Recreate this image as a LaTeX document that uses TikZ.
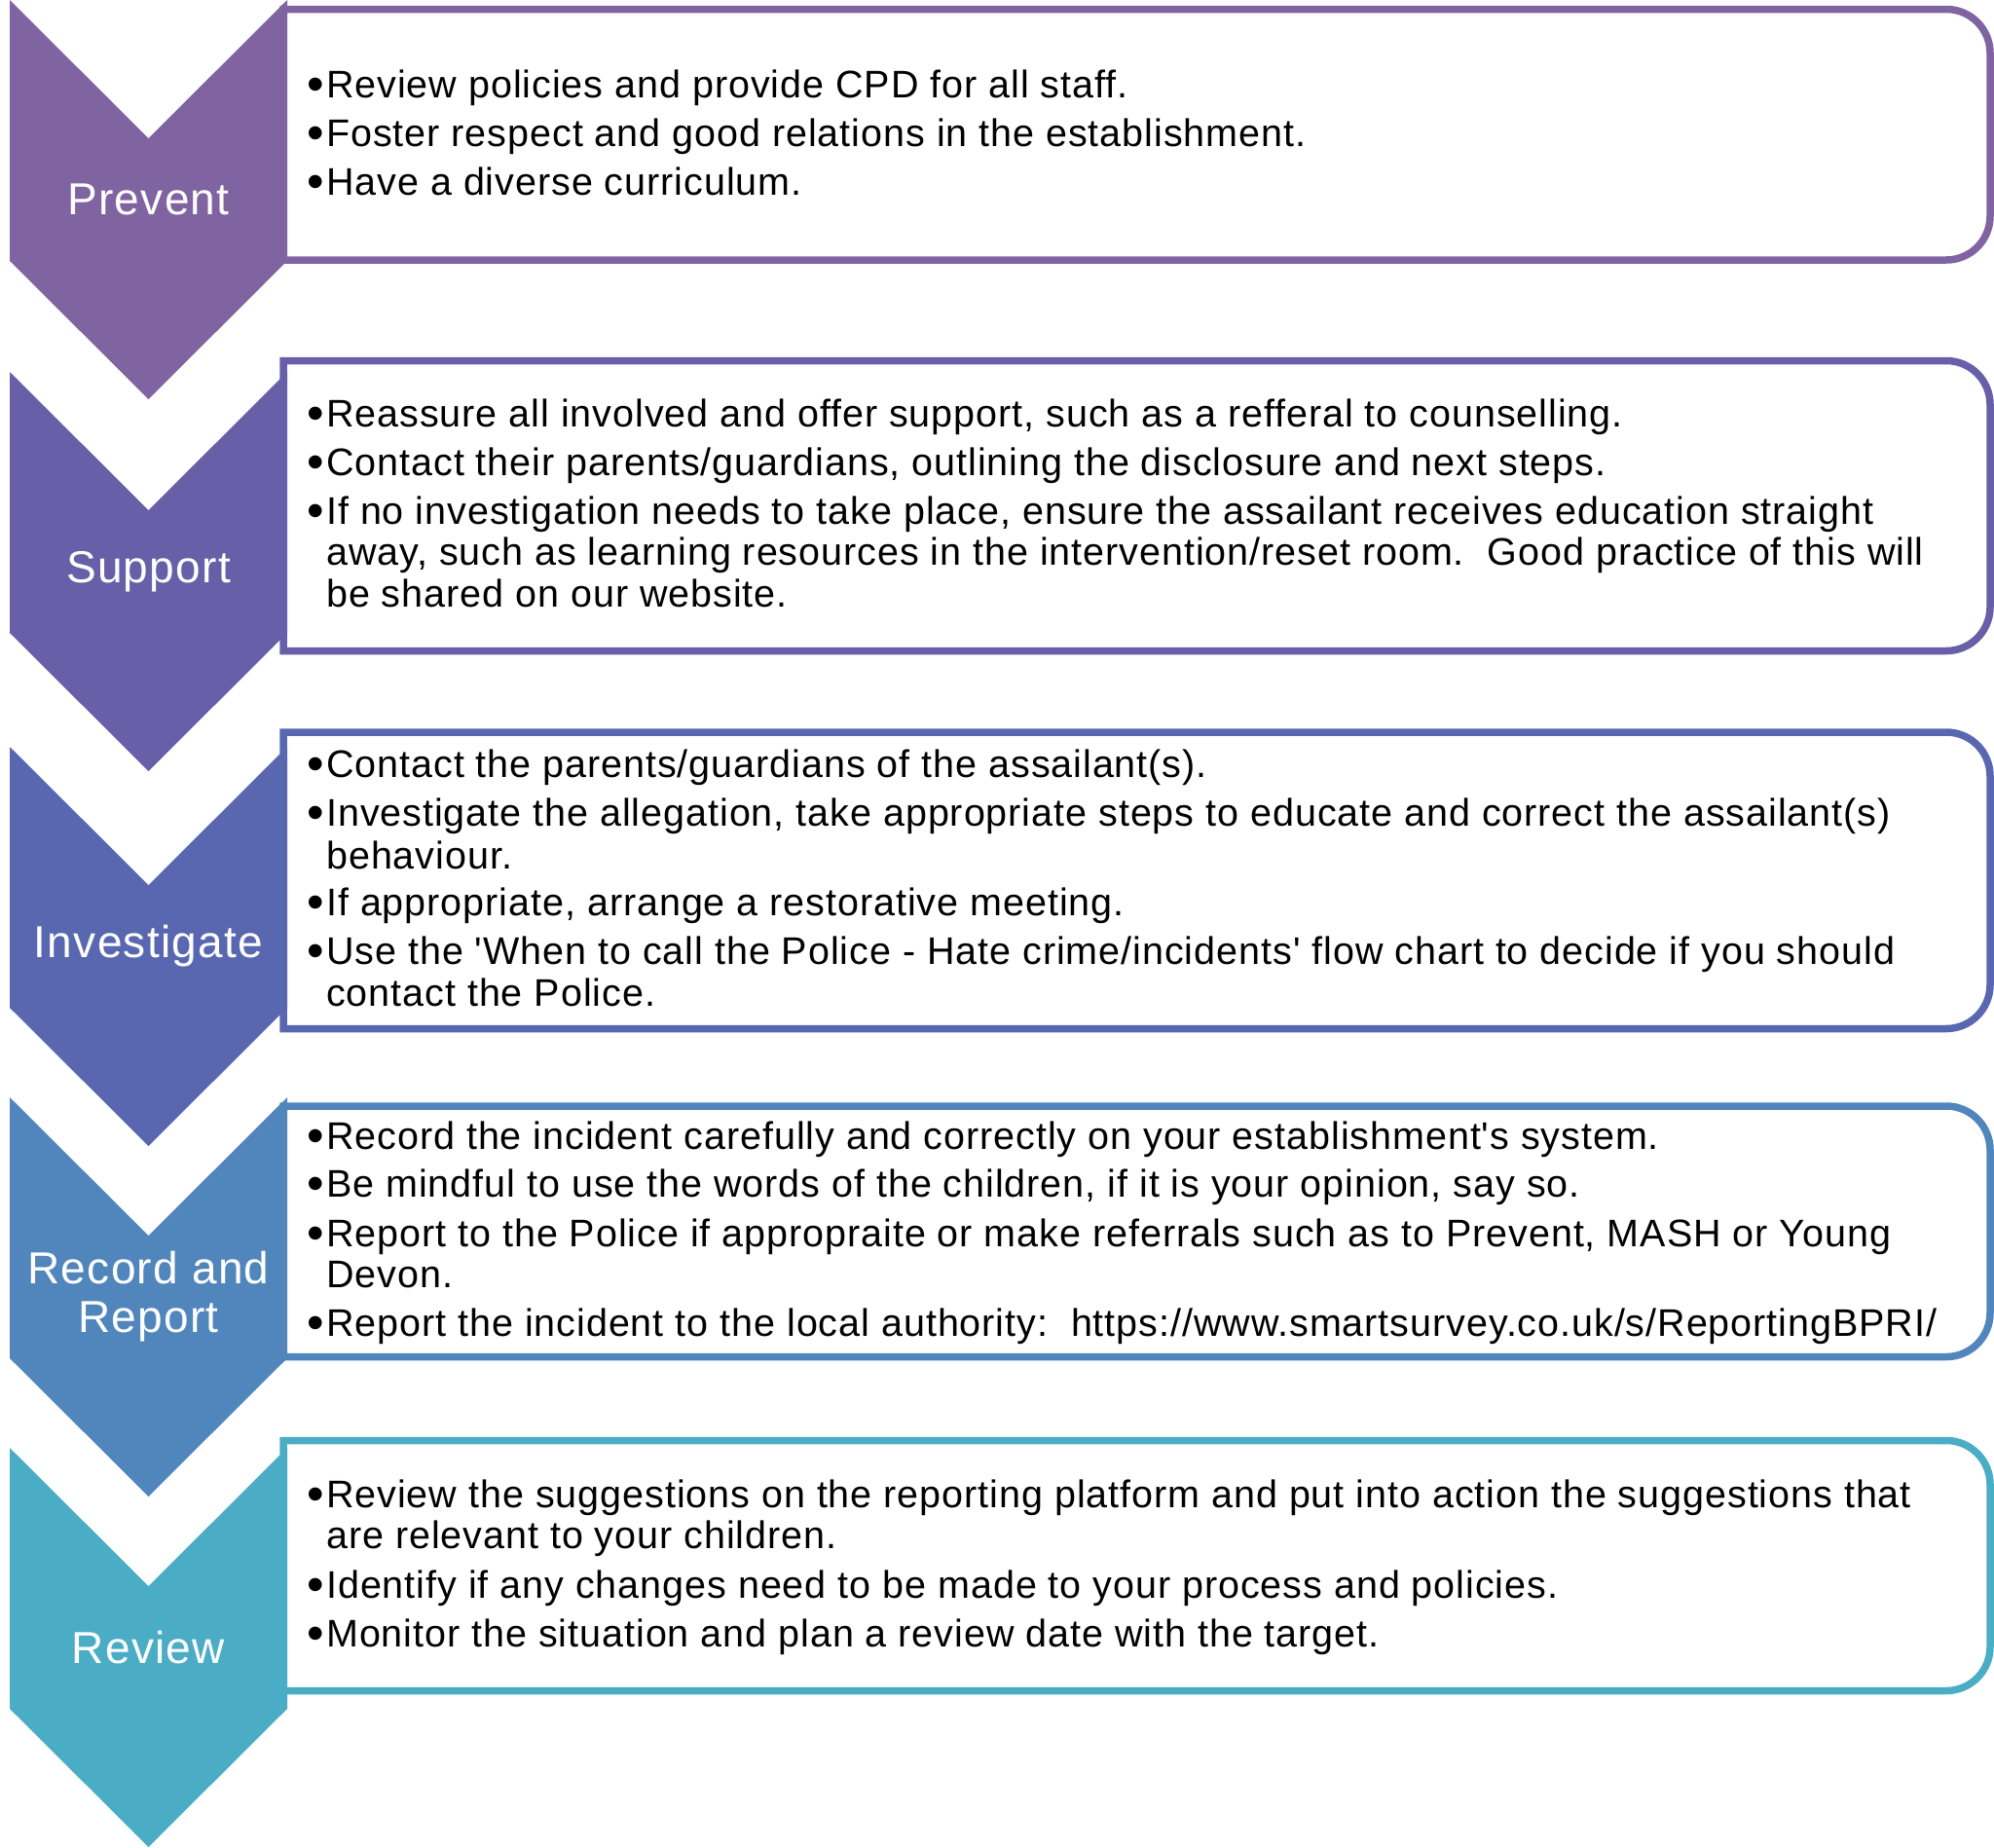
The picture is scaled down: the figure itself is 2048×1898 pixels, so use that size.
\documentclass[tikz,border=0pt]{standalone}
\usepackage{fontspec}
\setmainfont{Liberation Sans}
\newfontfamily\bodyfont[LetterSpace=2.4]{Liberation Sans}
\newfontfamily\labelfont[LetterSpace=2.8]{Liberation Sans}
\newfontfamily\bulfont{Liberation Sans}
\definecolor{cPrevent}{HTML}{8064A2}
\definecolor{cSupport}{HTML}{695EA8}
\definecolor{cInvest}{HTML}{5967B1}
\definecolor{cRecord}{HTML}{5186BD}
\definecolor{cReview}{HTML}{4BACC6}
\tikzset{
  bodyline/.style={anchor=base west, inner sep=0pt, font=\bodyfont\fontsize{39.5}{43}\selectfont, text=black},
  chevlabel/.style={inner sep=0pt, align=center, text=white, font=\labelfont\fontsize{46}{50}\selectfont},
  stagebox/.style={draw=#1, line width=7.5pt, fill=white},
  chevshape/.style={fill=#1, draw=none}
}
% bullet line: name, baseline y, text
\newcommand\bulline[3]{\node[bodyline] (#1) at (315,#2) {\makebox[20pt][l]{\raisebox{-3pt}{\bulfont\fontsize{50}{50}\selectfont •}}#3};}
% continuation line
\newcommand\contline[3]{\node[bodyline] (#1) at (335,#2) {#3};}
% box: name, colour, top, bottom
\newcommand\stagebx[4]{%
  \draw[stagebox=#2] (291,#3) -- (1500,#3) [rounded corners=45pt] -- (2044,#3) -- (2044,#4) -- (1500,#4) [sharp corners] -- (291,#4) -- cycle;
  \coordinate (#1) at (1167,{(#3+#4)/2});}
% chevron: name, colour, top
\newcommand\chev[3]{%
  \fill[chevshape=#2] (10,#3) -- (152.5,#3+142) -- (295,#3) -- (295,#3+268) -- (152.5,#3+410) -- (10,#3+268) -- cycle;
  \coordinate (#1) at (152.5,#3+205);}
\begin{document}
\begin{tikzpicture}[x=1pt,y=-1pt]
\useasboundingbox (0,0) rectangle (2048,1898);
% boxes
\stagebx{bxA}{cPrevent}{9.5}{267}
\stagebx{bxB}{cSupport}{370.5}{668.5}
\stagebx{bxC}{cInvest}{752}{1056.5}
\stagebx{bxD}{cRecord}{1136}{1393.5}
\stagebx{bxE}{cReview}{1479.5}{1736.5}
% chevrons
\chev{chA}{cPrevent}{0}
\chev{chB}{cSupport}{382}
\chev{chC}{cInvest}{767}
\chev{chD}{cRecord}{1127}
\chev{chE}{cReview}{1487}
\node[chevlabel] (lA) at (chA) {Prevent};
\node[chevlabel] (lB) at (chB) {Support};
\node[chevlabel] (lC) at (chC) {Investigate};
\node[chevlabel] (lD) at (chD) {Record and\\Report};
\node[chevlabel] (lE) at (chE) {Review};
% Prevent text
\bulline{a1}{100}{Review policies and provide CPD for all staff.}
\bulline{a2}{150}{Foster respect and good relations in the establishment.}
\bulline{a3}{200}{Have a diverse curriculum.}
% Support text
\bulline{b1}{438}{Reassure all involved and offer support, such as a refferal to counselling.}
\bulline{b2}{488}{Contact their parents/guardians, outlining the disclosure and next steps.}
\bulline{b3}{538}{If no investigation needs to take place, ensure the assailant receives education straight}
\contline{b4}{580.5}{away, such as learning resources in the intervention/reset room.\ \ Good practice of this will}
\contline{b5}{623}{be shared on our website.}
% Investigate text
\bulline{c1}{798}{Contact the parents/guardians of the assailant(s).}
\bulline{c2}{848}{Investigate the allegation, take appropriate steps to educate and correct the assailant(s)}
\contline{c3}{892}{behaviour.}
\bulline{c4}{940}{If appropriate, arrange a restorative meeting.}
\bulline{c5}{990}{Use the 'When to call the Police - Hate crime/incidents' flow chart to decide if you should}
\contline{c6}{1033}{contact the Police.}
% Record text
\bulline{d1}{1180}{Record the incident carefully and correctly on your establishment's system.}
\bulline{d2}{1229}{Be mindful to use the words of the children, if it is your opinion, say so.}
\bulline{d3}{1280}{Report to the Police if appropraite or make referrals such as to Prevent, MASH or Young}
\contline{d4}{1322}{Devon.}
\bulline{d5}{1372}{Report the incident to the local authority:\ \ https://www.smartsurvey.co.uk/s/ReportingBPRI/}
% Review text
\bulline{e1}{1548}{Review the suggestions on the reporting platform and put into action the suggestions that}
\contline{e2}{1590}{are relevant to your children.}
\bulline{e3}{1641}{Identify if any changes need to be made to your process and policies.}
\bulline{e4}{1691}{Monitor the situation and plan a review date with the target.}
\end{tikzpicture}
\end{document}
